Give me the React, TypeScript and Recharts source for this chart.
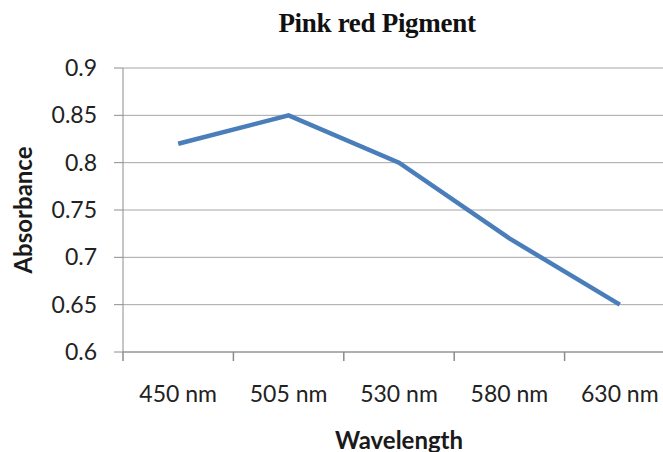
import { CartesianGrid, Label, Line, LineChart, XAxis, YAxis } from 'recharts'

const wavelengths = ['450 nm', '505 nm', '530 nm', '580 nm', '630 nm']
const absorbance = [0.82, 0.85, 0.8, 0.72, 0.65]
const yTicks = [0.6, 0.65, 0.7, 0.75, 0.8, 0.85, 0.9]

// slot = middle of each category band, used by the frame axis only
const data = wavelengths.map((wavelength, i) => ({ wavelength, slot: i + 0.5, absorbance: absorbance[i] }))
// category boundaries, Excel puts its tick marks between categories
const frameTicks = Array.from({ length: wavelengths.length + 1 }, (_, i) => i)

const sans = 'Lato, "Open Sans", sans-serif'
const gridColor = '#a6a6a6'
const axisColor = '#8c8c8c'

function YTitle(props: any) {
  const { viewBox } = props
  const x = viewBox.x + 22
  const y = viewBox.y + viewBox.height / 2
  return (
    <text
      x={x}
      y={y}
      transform={`rotate(-90 ${x} ${y})`}
      textAnchor="middle"
      dominantBaseline="central"
      fontFamily={sans}
      fontWeight="bold"
      fontSize={24}
      fill="#1a1a1a"
    >
      Absorbance
    </text>
  )
}

function XTitle(props: any) {
  const { viewBox } = props
  return (
    <text
      x={viewBox.x + viewBox.width / 2}
      y={viewBox.y + 86}
      textAnchor="middle"
      dominantBaseline="central"
      fontFamily={sans}
      fontWeight="bold"
      fontSize={24}
      fill="#1a1a1a"
    >
      Wavelength
    </text>
  )
}

export default function App() {
  return (
    <div
      style={{
        position: 'absolute',
        left: 0,
        top: 0,
        width: 663,
        height: 452,
        overflow: 'hidden',
        background: '#fff',
      }}
    >
      <div
        style={{
          position: 'absolute',
          left: 227,
          top: 10,
          width: 300,
          textAlign: 'center',
          fontFamily: '"Liberation Serif", "Times New Roman", serif',
          fontWeight: 'bold',
          fontSize: 27,
          lineHeight: '27px',
          letterSpacing: -0.3,
          color: '#111',
        }}
      >
        Pink red Pigment
      </div>
      <LineChart width={700} height={452} data={data} margin={{ top: 68, right: 25, bottom: 0, left: 0 }}>
        <CartesianGrid stroke={gridColor} vertical={false} xAxisId="axisFrame" />
        <XAxis
          xAxisId="labels"
          dataKey="wavelength"
          scale="band"
          axisLine={false}
          tickLine={false}
          tickSize={0}
          tickMargin={33}
          height={99}
          interval={0}
          tick={{ fontFamily: sans, fontSize: 23, fill: '#222' }}
        >
          <Label content={<XTitle />} />
        </XAxis>
        <XAxis
          xAxisId="axisFrame"
          dataKey="slot"
          type="number"
          domain={[0, wavelengths.length]}
          ticks={frameTicks}
          allowDataOverflow
          interval={0}
          tick={() => <g />}
          tickLine={{ stroke: axisColor, strokeWidth: 1.5 }}
          tickSize={9}
          height={1}
          stroke={axisColor}
        />
        <YAxis
          width={123}
          domain={[0.6, 0.9]}
          ticks={yTicks}
          tickSize={9}
          tickMargin={17}
          stroke={axisColor}
          tick={{ fontFamily: sans, fontSize: 23, fill: '#222' }}
        >
          <Label content={<YTitle />} />
        </YAxis>
        <Line
          xAxisId="labels"
          type="linear"
          dataKey="absorbance"
          stroke="#4a7ebb"
          strokeWidth={4.5}
          dot={false}
          isAnimationActive={false}
        />
      </LineChart>
    </div>
  )
}
